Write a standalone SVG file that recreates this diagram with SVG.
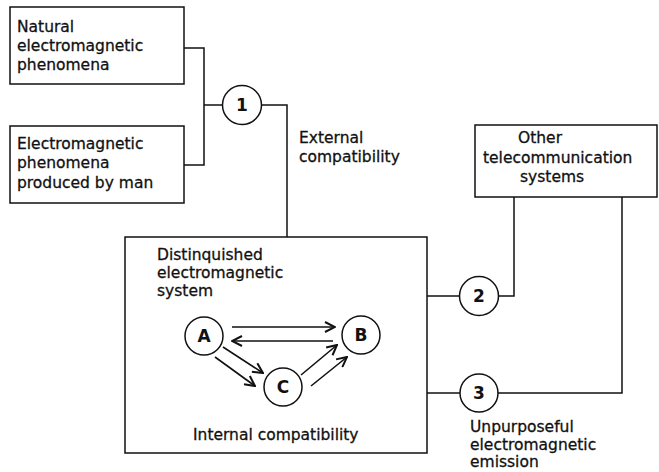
<svg xmlns="http://www.w3.org/2000/svg" width="659" height="472" viewBox="0 0 659 472">
<style>
.box{fill:#fff;stroke:#111;stroke-width:1.5}
.ln{fill:none;stroke:#111;stroke-width:1.5}
.t{font-family:"DejaVu Sans","Liberation Sans",sans-serif;font-size:15.5px;fill:#111;stroke:#111;stroke-width:0.3}
.c{font-family:"DejaVu Sans","Liberation Sans",sans-serif;font-size:17px;fill:#111;text-anchor:middle;font-weight:bold}
.ar{fill:none;stroke:#111;stroke-width:1.6}
</style>
<defs>
<marker id="ah" viewBox="0 0 12 12" refX="11" refY="6" markerWidth="12" markerHeight="12" markerUnits="userSpaceOnUse" orient="auto">
<path d="M1,1 L11,6 L1,11" fill="none" stroke="#111" stroke-width="2"/>
</marker>
</defs>
<rect width="659" height="472" fill="#fff"/>
<g id="connectors">
<path class="ln" d="M184,48 H204 V165 H184"/>
<path class="ln" d="M204,105 H222"/>
<path class="ln" d="M262,105 H287 V237"/>
<path class="ln" d="M427,296 H459"/>
<path class="ln" d="M499,296 H514 V197"/>
<path class="ln" d="M427,393 H460"/>
<path class="ln" d="M498,393 H622 V197"/>
</g>
<g id="natural">
<rect class="box" x="10" y="7" width="174" height="77"/>
<text class="t" x="17" y="32">Natural</text>
<text class="t" x="17" y="51">electromagnetic</text>
<text class="t" x="17" y="70">phenomena</text>
</g>
<g id="manmade">
<rect class="box" x="10" y="126" width="174" height="77"/>
<text class="t" x="17" y="149">Electromagnetic</text>
<text class="t" x="17" y="168">phenomena</text>
<text class="t" x="17" y="188">produced by man</text>
</g>
<g id="n1">
<circle class="ln" cx="242" cy="105" r="19.5"/>
<text class="c" x="242" y="111">1</text>
</g>
<g id="external-label">
<text class="t" x="299" y="143">External</text>
<text class="t" x="299" y="162">compatibility</text>
</g>
<g id="other">
<rect class="box" x="475" y="125" width="182" height="72"/>
<text class="t" x="518" y="143">Other</text>
<text class="t" x="483" y="163">telecommunication</text>
<text class="t" x="520" y="182">systems</text>
</g>
<g id="system">
<rect class="box" x="125" y="237" width="302" height="216"/>
<text class="t" x="157" y="260">Distinquished</text>
<text class="t" x="157" y="278">electromagnetic</text>
<text class="t" x="157" y="296">system</text>
<text class="t" x="193" y="440">Internal compatibility</text>
</g>
<g id="nA">
<circle class="ln" cx="204" cy="336" r="19"/>
<text class="c" x="204" y="342">A</text>
</g>
<g id="nB">
<circle class="ln" cx="361" cy="335" r="19"/>
<text class="c" x="361" y="341">B</text>
</g>
<g id="nC">
<circle class="ln" cx="283" cy="387" r="19"/>
<text class="c" x="283" y="393">C</text>
</g>
<g id="internal-arrows">
<line class="ar" x1="232" y1="327" x2="335" y2="327" marker-end="url(#ah)"/>
<line class="ar" x1="333" y1="341" x2="232" y2="341" marker-end="url(#ah)"/>
<line class="ar" x1="223" y1="347" x2="263" y2="373" marker-end="url(#ah)"/>
<line class="ar" x1="215" y1="357" x2="255" y2="386" marker-end="url(#ah)"/>
<line class="ar" x1="301" y1="375" x2="337" y2="345" marker-end="url(#ah)"/>
<line class="ar" x1="311" y1="386" x2="347" y2="357" marker-end="url(#ah)"/>
</g>
<g id="n2">
<circle class="ln" cx="479" cy="296" r="19.5"/>
<text class="c" x="479" y="302">2</text>
</g>
<g id="n3">
<circle class="ln" cx="479" cy="393" r="19"/>
<text class="c" x="479" y="399">3</text>
</g>
<g id="emission-label">
<text class="t" x="470" y="432">Unpurposeful</text>
<text class="t" x="470" y="450">electromagnetic</text>
<text class="t" x="470" y="467">emission</text>
</g>
</svg>
